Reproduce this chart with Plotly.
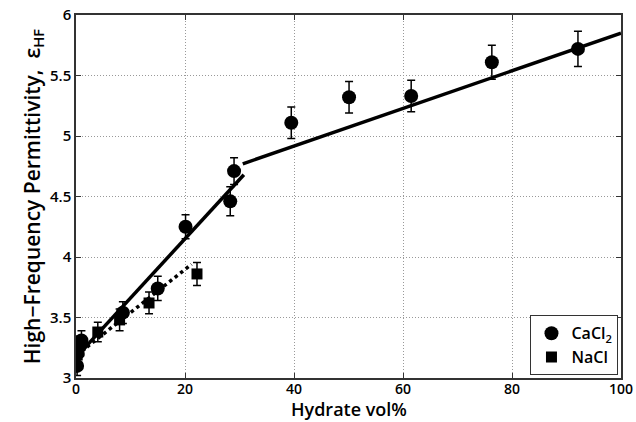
import plotly.graph_objects as go

# CaCl2 data (circles)
ca_x = [0.2, 0.3, 0.8, 1.0, 8.6, 15.0, 20.1, 28.3, 29.0, 39.5, 50.1, 61.5, 76.3, 92.1]
ca_y = [3.10, 3.20, 3.27, 3.31, 3.54, 3.74, 4.25, 4.46, 4.71, 5.11, 5.32, 5.33, 5.61, 5.72]
ca_err = [0.08, 0.08, 0.08, 0.08, 0.09, 0.10, 0.10, 0.12, 0.11, 0.13, 0.13, 0.13, 0.14, 0.145]

# NaCl data (squares)
na_x = [0.5, 4.0, 8.0, 13.4, 22.2]
na_y = [3.22, 3.38, 3.48, 3.62, 3.86]
na_err = [0.07, 0.08, 0.09, 0.09, 0.095]

# Fit lines
fit_lo_x = [1.0, 30.8]
fit_lo_y = [3.22, 4.68]
fit_hi_x = [30.6, 100.0]
fit_hi_y = [4.77, 5.85]
fit_na_x = [1.0, 21.2]
fit_na_y = [3.22, 3.94]

x_ticks = [0, 20, 40, 60, 80, 100]
y_ticks = [3, 3.5, 4, 4.5, 5, 5.5, 6]

FONT = "Open Sans"

fig = go.Figure()
fig.add_trace(go.Scatter(x=fit_lo_x, y=fit_lo_y, mode="lines",
                         line=dict(color="black", width=3.5), showlegend=False, hoverinfo="skip"))
fig.add_trace(go.Scatter(x=fit_hi_x, y=fit_hi_y, mode="lines",
                         line=dict(color="black", width=3.5), showlegend=False, hoverinfo="skip"))
fig.add_trace(go.Scatter(x=fit_na_x, y=fit_na_y, mode="lines",
                         line=dict(color="black", width=3.5, dash="dot"), showlegend=False, hoverinfo="skip"))
fig.add_trace(go.Scatter(x=ca_x, y=ca_y, mode="markers", name="CaCl<sub>2</sub>",
                         marker=dict(symbol="circle", size=14, color="black"),
                         error_y=dict(type="data", array=ca_err, color="black", thickness=1.5, width=4)))
fig.add_trace(go.Scatter(x=na_x, y=na_y, mode="markers", name="NaCl",
                         marker=dict(symbol="square", size=11, color="black"),
                         error_y=dict(type="data", array=na_err, color="black", thickness=1.5, width=4)))

axis_common = dict(
    showline=True, linecolor="#333", linewidth=1.5, mirror="ticks",
    ticks="inside", ticklen=5, tickcolor="#333",
    showgrid=True, gridcolor="#999", griddash="1px,2px", gridwidth=1,
    zeroline=False, automargin=False,
    tickfont=dict(family=FONT, size=15, color="black", weight=600),
)

fig.update_layout(
    width=636, height=422,
    margin=dict(l=76, r=15, t=15, b=44),
    plot_bgcolor="white", paper_bgcolor="white",
    xaxis=dict(range=[0, 100], tickvals=x_ticks, ticktext=[str(v) for v in x_ticks],
               ticklabelstandoff=-3, **(axis_common | dict(tickfont=dict(family=FONT, size=14, color="black", weight=600)))),
    yaxis=dict(range=[3, 6], tickvals=y_ticks, ticktext=["3", "3.5", "4", "4.5", "5", "5.5", "6"],
               title=dict(text="High\u2212Frequency Permittivity,  \u03b5<sub>HF</sub>",
                          font=dict(family=FONT, size=21, color="black", weight=600), standoff=4),
               **axis_common),
    annotations=[dict(text="Hydrate vol%", x=0.5, y=0, xref="paper", yref="paper",
                      xanchor="center", yanchor="bottom", yshift=-44, showarrow=False,
                      borderpad=0,
                      font=dict(family=FONT, size=18, color="black", weight=600))],
    legend=dict(x=0.995, y=0.008, xanchor="right", yanchor="bottom",
                bgcolor="white", bordercolor="#333", borderwidth=1.2,
                font=dict(family=FONT, size=16, color="black", weight=600),
                itemwidth=30, tracegroupgap=2),
    showlegend=True,
)

fig.write_html("out.html")
